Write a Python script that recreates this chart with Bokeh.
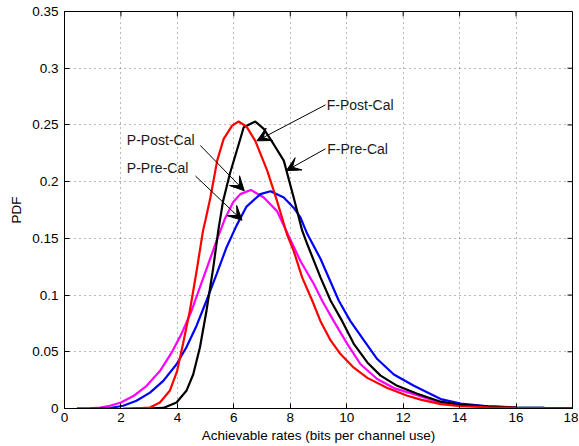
import math
from bokeh.plotting import figure
from bokeh.models import Arrow, VeeHead, Label, FixedTicker, Range1d
from bokeh.embed import file_html
from bokeh.resources import INLINE

# ---- data ----
f_post_x = [2.08, 2.8, 3.03, 3.38, 3.73, 3.99, 4.2, 4.44, 4.68, 4.91, 4.99, 5.17, 5.41, 5.64, 5.94,
            6.17, 6.45, 6.76, 7.18, 7.53, 7.89, 8.12, 8.42, 8.78, 9.07, 9.43, 9.78, 10.25, 10.73,
            11.44, 12.15, 12.62, 13.33, 14.04, 15.0, 16.0, 17.0, 18.0]
f_post_y = [0.0, 0.0005, 0.0009, 0.0053, 0.0156, 0.033, 0.057, 0.086, 0.121, 0.157, 0.1655, 0.186,
            0.2185, 0.2377, 0.2494, 0.253, 0.2485, 0.236, 0.21, 0.183, 0.153, 0.139, 0.1156, 0.095,
            0.077, 0.06, 0.048, 0.036, 0.027, 0.018, 0.0112, 0.0078, 0.0038, 0.002, 0.0011, 0.0006,
            0.0003, 0.0002]

f_pre_x = [2.92, 3.5, 3.97, 4.32, 4.56, 4.8, 5.03, 5.27, 5.45, 5.62, 5.86, 6.21, 6.35, 6.76, 7.06,
           7.41, 7.77, 8.12, 8.42, 8.6, 9.07, 9.43, 9.84, 10.25, 10.73, 11.2, 11.79, 12.5, 13.33,
           14.04, 15.0, 16.0, 17.0, 18.0]
f_pre_y = [0.0, 0.0005, 0.0053, 0.0156, 0.030, 0.054, 0.086, 0.124, 0.157, 0.183, 0.207, 0.236,
           0.248, 0.253, 0.2465, 0.233, 0.2185, 0.186, 0.157, 0.145, 0.1156, 0.095, 0.077, 0.057,
           0.0406, 0.029, 0.020, 0.013, 0.006, 0.0032, 0.0018, 0.0009, 0.0005, 0.0003]

p_pre_x = [0.44, 1.27, 1.61, 2.08, 2.55, 3.03, 3.5, 3.97, 4.32, 4.68, 5.03, 5.39, 5.74, 6.09, 6.45,
           6.94, 7.3, 7.77, 8.12, 8.36, 8.6, 9.07, 9.72, 10.13, 10.61, 11.08, 11.67, 12.38, 13.33,
           14.04, 15.0, 16.0, 17.0, 18.0]
p_pre_y = [0.0, 0.0001, 0.0004, 0.0024, 0.0068, 0.014, 0.0244, 0.039, 0.054, 0.073, 0.095, 0.1185,
           0.142, 0.161, 0.178, 0.189, 0.1915, 0.186, 0.177, 0.1685, 0.154, 0.132, 0.095, 0.077,
           0.06, 0.0436, 0.030, 0.020, 0.0083, 0.0044, 0.002, 0.0009, 0.0005, 0.0003]

p_post_x = [0.44, 0.9, 1.27, 1.61, 2.0, 2.44, 2.91, 3.38, 3.79, 4.15, 4.5, 4.8, 5.09, 5.39, 5.68,
            5.98, 6.23, 6.6, 7.06, 7.53, 7.89, 8.36, 8.83, 9.13, 9.54, 10.02, 10.49, 11.08, 11.67,
            12.38, 13.33, 14.04, 15.0, 16.0, 17.0, 18.0]
p_post_y = [0.0, 0.0002, 0.0008, 0.0024, 0.0053, 0.011, 0.02, 0.033, 0.049, 0.066, 0.086, 0.107,
            0.127, 0.148, 0.167, 0.182, 0.189, 0.1927, 0.186, 0.174, 0.155, 0.13, 0.11, 0.095,
            0.077, 0.057, 0.039, 0.026, 0.018, 0.0127, 0.005, 0.0028, 0.0014, 0.0007, 0.0004, 0.0002]

x_min, x_max = 0, 18
y_min, y_max = 0, 0.35
x_ticks = [0, 2, 4, 6, 8, 10, 12, 14, 16, 18]
y_ticks = [0, 0.05, 0.1, 0.15, 0.2, 0.25, 0.3, 0.35]
y_tick_labels = ["0", "0.05", "0.1", "0.15", "0.2", "0.25", "0.3", "0.35"]

# annotation: label, text anchor (x, y), arrow tail (x, y), arrow head (x, y)
annotations = [
    ("P-Post-Cal", (2.21, 0.2368), (4.81, 0.232), (6.37, 0.192)),
    ("P-Pre-Cal", (2.21, 0.212), (4.64, 0.205), (6.29, 0.166)),
    ("F-Post-Cal", (9.29, 0.2677), (9.25, 0.2677), (6.82, 0.236)),
    ("F-Pre-Cal", (9.31, 0.2289), (9.25, 0.229), (7.86, 0.2097)),
]

FONT = "Liberation Sans"

p = figure(width=578, height=445, output_backend="svg", toolbar_location=None,
           x_range=Range1d(x_min, x_max), y_range=Range1d(y_min, y_max),
           min_border_left=64, min_border_right=6, min_border_top=11, min_border_bottom=37)
p.background_fill_color = "white"
p.border_fill_color = "white"
p.outline_line_color = "black"
p.outline_line_width = 1

p.line(p_post_x, p_post_y, line_color="#ff00ff", line_width=2.2)
p.line(p_pre_x, p_pre_y, line_color="#0000ff", line_width=2.2)
p.line(f_pre_x, f_pre_y, line_color="#000000", line_width=2.2)
p.line(f_post_x, f_post_y, line_color="#ff0000", line_width=2.2)

p.xaxis.ticker = FixedTicker(ticks=x_ticks)
p.yaxis.ticker = FixedTicker(ticks=y_ticks)
p.yaxis.major_label_overrides = {t: l for t, l in zip(y_ticks, y_tick_labels)}

for ax in (p.xaxis[0], p.yaxis[0]):
    ax.major_tick_in = 5
    ax.major_tick_out = 0
    ax.minor_tick_line_color = None
    ax.axis_line_color = "black"
    ax.major_tick_line_color = "black"
    ax.major_label_text_font = FONT
    ax.major_label_text_font_size = "13.5px"
    ax.major_label_text_color = "black"
    ax.axis_label_text_font = FONT
    ax.axis_label_text_font_size = "13.5px"
    ax.axis_label_text_font_style = "normal"
    ax.axis_label_text_color = "black"

p.xaxis.axis_label = "Achievable rates (bits per channel use)"
p.yaxis.axis_label = "PDF"
p.xaxis.major_label_standoff = 4
p.xaxis.axis_label_standoff = 3
p.yaxis.major_label_standoff = 6
p.yaxis.axis_label_standoff = 5

# inward tick marks on the top and right edges of the box (MATLAB style)
p.ray(x=x_ticks, y=[y_max] * len(x_ticks), length=5, length_units="screen",
      angle=-math.pi / 2, line_color="black", line_width=1)
p.ray(x=[x_max] * len(y_ticks), y=y_ticks, length=5, length_units="screen",
      angle=math.pi, line_color="black", line_width=1)

p.grid.grid_line_color = "#000000"
p.grid.grid_line_alpha = 0.55
p.grid.grid_line_dash = "1 4"
p.xgrid.ticker = FixedTicker(ticks=x_ticks)
p.ygrid.ticker = FixedTicker(ticks=y_ticks)

for text, (tx, ty), (sx, sy), (ex, ey) in annotations:
    p.add_layout(Arrow(end=VeeHead(size=14, fill_color="black", line_color="black", line_width=1),
                       x_start=sx, y_start=sy, x_end=ex, y_end=ey,
                       line_color="black", line_width=1))
    p.add_layout(Label(x=tx, y=ty, text=text, text_font=FONT, text_font_size="14px",
                       text_baseline="middle", text_align="left", text_color="#1a1a1a"))

open("out.html", "w").write(file_html(p, INLINE))
